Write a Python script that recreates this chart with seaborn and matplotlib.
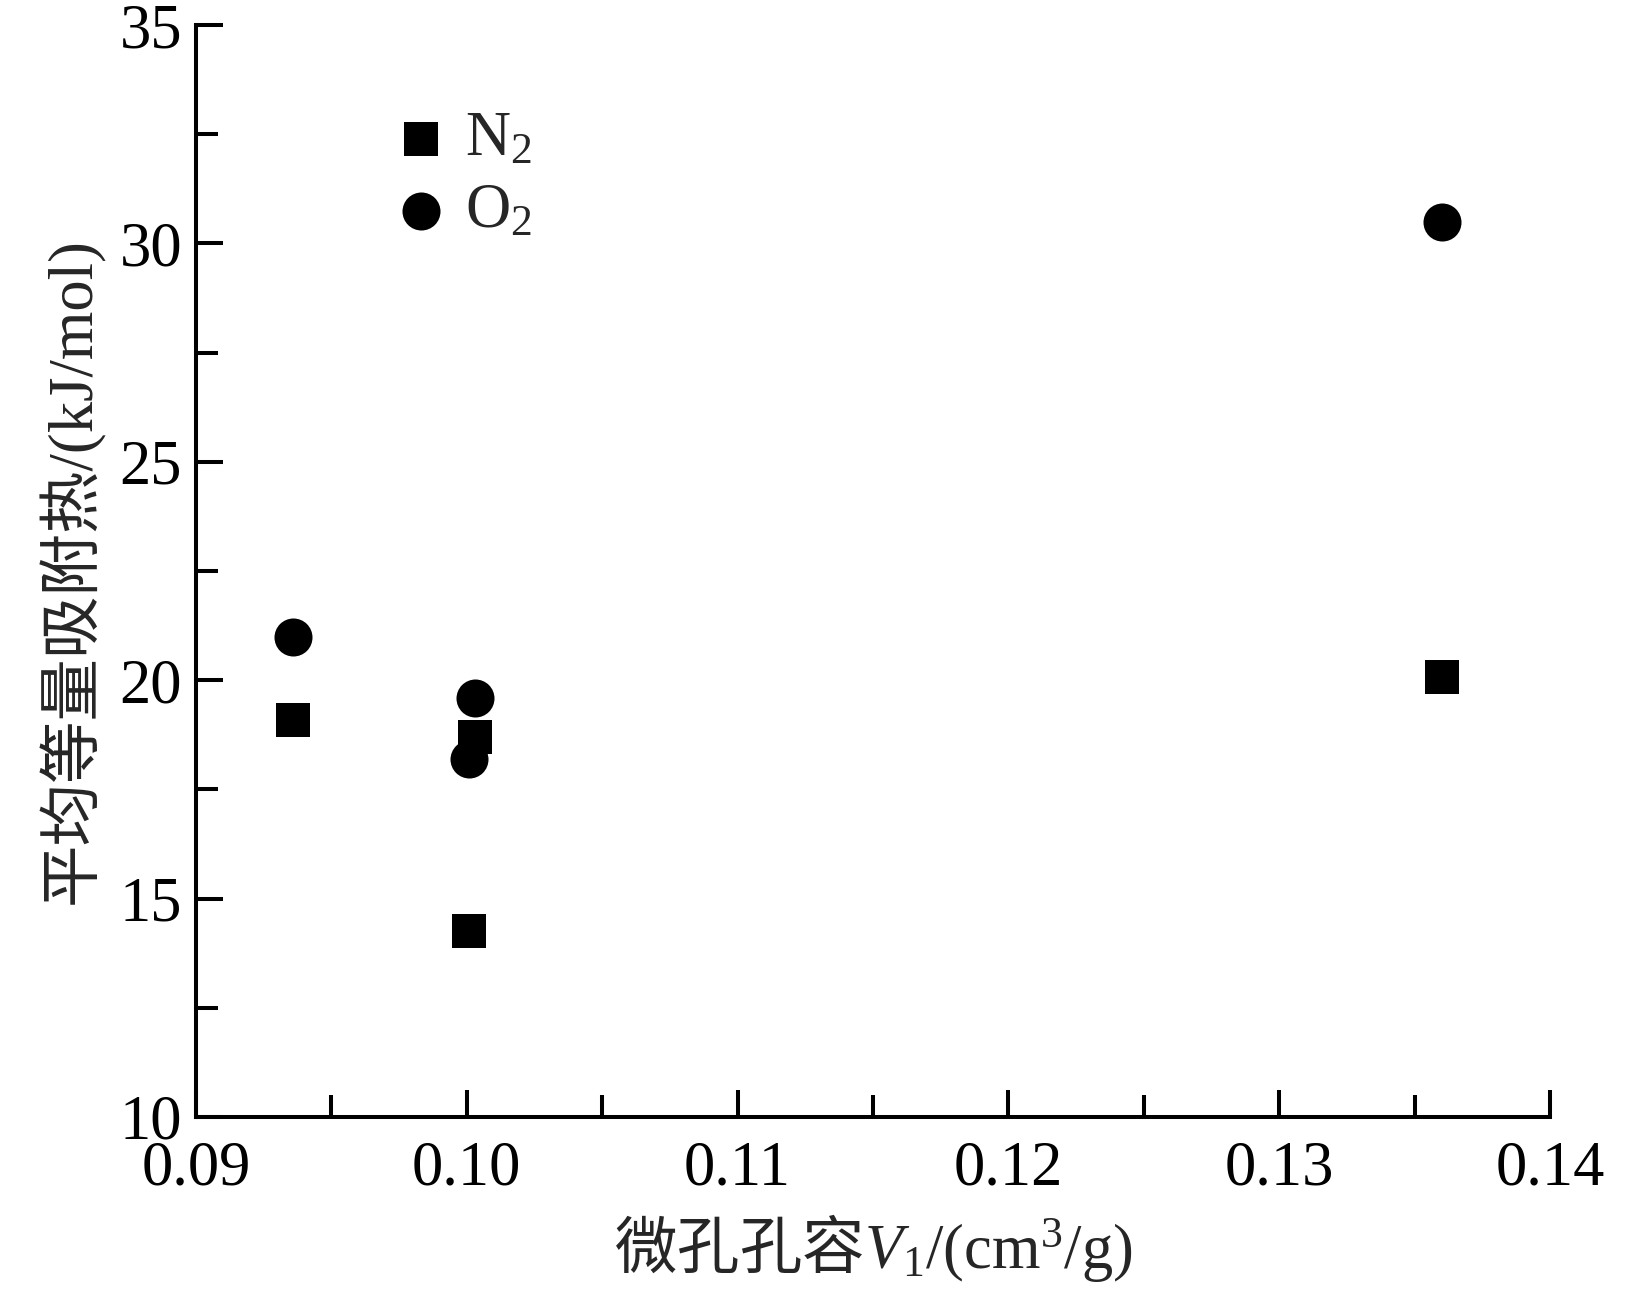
import pandas as pd
import matplotlib
matplotlib.use("Agg")
import matplotlib.pyplot as plt
import seaborn as sns
from matplotlib.ticker import MultipleLocator, FormatStrFormatter

# values
pore_volume = [0.0936, 0.1003, 0.1001, 0.1360]
heat_n2 = [19.1, 18.7, 14.25, 20.07]
heat_o2 = [21.0, 19.6, 18.2, 30.5]
gas_labels = ["$\\mathrm{N_2}$", "$\\mathrm{O_2}$"]

df = pd.DataFrame({
    "V1": pore_volume * 2,
    "heat": heat_n2 + heat_o2,
    "gas": [gas_labels[0]] * 4 + [gas_labels[1]] * 4,
})

sns.set_style("ticks")
plt.rcParams["font.family"] = ["Liberation Serif", "Noto Sans CJK SC"]
plt.rcParams["mathtext.fontset"] = "custom"
plt.rcParams["mathtext.rm"] = "Liberation Serif"
plt.rcParams["mathtext.it"] = "Liberation Serif:italic"

fig, ax = plt.subplots(figsize=(16.41, 13.05), dpi=100)
fig.subplots_adjust(left=0.1194, right=0.9446, bottom=0.1441, top=0.9808)

# squares and circles, black, no edge
sns.scatterplot(data=df[df.gas == gas_labels[0]], x="V1", y="heat",
                marker="s", s=566, color="black", linewidth=0,
                label=gas_labels[0], ax=ax)
sns.scatterplot(data=df[df.gas == gas_labels[1]], x="V1", y="heat",
                marker="o", s=749, color="black", linewidth=0,
                label=gas_labels[1], ax=ax)

ax.set_xlim(0.09, 0.14)
ax.set_ylim(10, 35)
ax.xaxis.set_major_locator(MultipleLocator(0.01))
ax.xaxis.set_minor_locator(MultipleLocator(0.005))
ax.yaxis.set_major_locator(MultipleLocator(5))
ax.yaxis.set_minor_locator(MultipleLocator(2.5))
ax.xaxis.set_major_formatter(FormatStrFormatter("%.2f"))

sns.despine(ax=ax)
for sp in ["left", "bottom"]:
    ax.spines[sp].set_linewidth(2.9)
    ax.spines[sp].set_color("black")

ax.tick_params(which="major", direction="in", length=19.5, width=2.9,
               labelsize=45, color="black", labelcolor="black")
ax.tick_params(which="minor", direction="in", length=15.8, width=2.9,
               color="black")
ax.tick_params(axis="x", which="major", pad=17)
ax.tick_params(axis="y", which="major", pad=10)

ax.set_xlabel("微孔孔容$V_\\mathrm{1}\\mathrm{/(cm^3/g)}$", fontsize=45,
              family="Noto Sans CJK SC", labelpad=10)
ax.set_ylabel("平均等量吸附热/(kJ/mol)", fontsize=45, labelpad=11)

leg = ax.legend(loc="upper left", bbox_to_anchor=(0.12, 0.944), frameon=False,
                fontsize=45, handletextpad=0.1, labelspacing=0.23,
                handlelength=1.2, borderaxespad=0)

fig.savefig("out.png", dpi=100)
